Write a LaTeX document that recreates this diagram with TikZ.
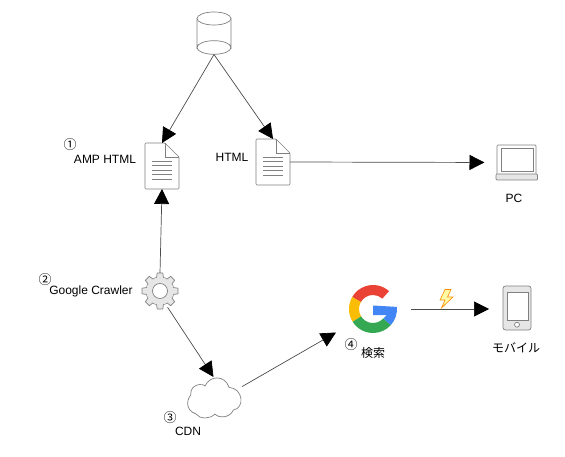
\documentclass[tikz,border=0pt]{standalone}
\usepackage{fontspec}
\usepackage{tikz}
\usetikzlibrary{arrows.meta,positioning,shapes.geometric,calc}
\setmainfont{Liberation Sans}
\newfontfamily\cjkfont{Noto Sans CJK JP}
\definecolor{IconGray}{HTML}{808080}
\definecolor{GearFill}{HTML}{E6E6E6}
\definecolor{GRed}{HTML}{EA4335}
\definecolor{GYellow}{HTML}{FBBC05}
\definecolor{GGreen}{HTML}{34A853}
\definecolor{GBlue}{HTML}{4285F4}
\tikzset{
  lbl/.style={font=\fontsize{12}{14}\selectfont, inner sep=0pt},
  num/.style={font=\fontsize{13}{14}\selectfont\cjkfont, inner sep=0pt},
  box/.style={inner sep=0pt, outer sep=0pt},
  link/.style={black!70, line width=0.7pt, -{Triangle[length=15pt,width=15pt,color=black]}},
  docicon/.pic={
    \draw[IconGray, line width=0.7pt, fill=white, rounded corners=1pt] (-17,-23) -- (3,-23) -- (17,-9) -- (17,23) -- (-17,23) -- cycle;
    \draw[IconGray, line width=0.7pt] (3,-23) -- (3,-9) -- (17,-9);
    \foreach \y in {-5,-0.4,4.2,8.8,13.4}
      \draw[IconGray, line width=0.7pt] (-10,\y) -- (10,\y);
  }
}

\begin{document}
\begin{tikzpicture}[x=1pt, y=-1pt]
\useasboundingbox (0,0) rectangle (565,457);

% Database on top
\node[box, minimum width=34pt, minimum height=42.5pt] (db) at (214,33.25) {};
\draw[IconGray, line width=0.7pt, fill=white] (197,18.5) -- (197,47.5) arc[start angle=180, end angle=0, x radius=17, y radius=-6.8] -- (231,18.5);
\draw[IconGray, line width=0.7pt, fill=white] (214,18.5) ellipse[x radius=17, y radius=6.5];
\draw[IconGray, line width=0.7pt] (197,47.5) arc[start angle=180, end angle=360, x radius=17, y radius=-6.8];

% Documents
\node[box, minimum width=34pt, minimum height=46pt] (amp) at (162,166) {};
\pic at (amp.center) {docicon};
\node[box, minimum width=34pt, minimum height=46pt] (html) at (273,162) {};
\pic at (html.center) {docicon};

% Laptop
\node[box, minimum width=41pt, minimum height=35pt] (pc) at (517,162.5) {};
\draw[IconGray, line width=0.7pt, fill=white, rounded corners=1pt] (497,174) -- (497,145) -- (536,145) -- (536,174);
\draw[IconGray, line width=0.7pt, fill=white] (501,148) rectangle (533,171);
\draw[IconGray, line width=0.7pt, fill=GearFill, rounded corners=1pt] (496,174) rectangle (537.5,180);

% Gear
\node[box, circle, minimum size=36pt] (crawler) at (160,291) {};
\begin{scope}[shift={(crawler.center)}]
  \filldraw[IconGray, line width=0.7pt, fill=GearFill] (0,0) circle (14);
  \foreach \a in {0,45,...,315}
    \filldraw[rotate=\a, IconGray, line width=0.7pt, fill=GearFill] (-3.5,-13) -- (-2.8,-18) -- (2.8,-18) -- (3.5,-13);
  \fill[GearFill] (0,0) circle (13.6);
  \filldraw[IconGray, line width=0.7pt, fill=white] (0,0) circle (7.5);
\end{scope}

% Cloud
\node[box, minimum width=57pt, minimum height=40pt] (cdn) at (213.5,397) {};
\draw[IconGray, line width=0.7pt, fill=white] (196,414)
  .. controls (185,410) and (186.7,400) .. (190.7,395)
  .. controls (190,383.3) and (203.3,383.3) .. (205,386)
  .. controls (210,375) and (225,375) .. (229,387.3)
  .. controls (243.3,388.3) and (245,408.3) .. (233.3,410)
  .. controls (230,418.3) and (218.3,418.3) .. (215,414)
  .. controls (210,419.3) and (200,419.3) .. (196,414) -- cycle;

% Google logo
\node[box, minimum width=75pt, minimum height=47pt] (google) at (373.5,309) {};
\begin{scope}[shift={(373,309)}, y=1pt]
  \fill[GRed] (48:24) arc[start angle=48, end angle=150, radius=24] -- (150:14) arc[start angle=150, end angle=48, radius=14] -- cycle;
  \fill[GYellow] (150:24) arc[start angle=150, end angle=212, radius=24] -- (212:14) arc[start angle=212, end angle=150, radius=14] -- cycle;
  \fill[GGreen] (212:24) arc[start angle=212, end angle=318, radius=24] -- (318:14) arc[start angle=318, end angle=212, radius=14] -- cycle;
  \fill[GBlue] (318:24) arc[start angle=318, end angle=365, radius=24] -- (0,3.5) -- (0,-6) -- (14,-6) -- (318:14) -- cycle;
\end{scope}

% Phone
\node[box, minimum width=28pt, minimum height=44pt] (mobile) at (517,308) {};
\draw[IconGray, line width=0.7pt, fill=GearFill, rounded corners=2.5pt] (503,286) rectangle (531,330);
\draw[IconGray, line width=0.7pt, fill=white] (507,292) rectangle (528,320);
\draw[IconGray, line width=0.7pt, fill=white] (517,324.7) circle (2.5);

% Connectors
\draw[link] (db.south) -- (amp.north);
\draw[link] (db.south) -- (html.north);
\draw[link, shorten >=12pt] (html.east) -- (pc.west);
\draw[link] (crawler.north) -- (amp.south);
\draw[link] (crawler.-65) -- (cdn.north);
\draw[link] (cdn.20) -- (google.south west);
\draw[link, shorten >=14pt] (google.east) -- (mobile.west |- google.east);

% Lightning bolt
\draw[orange!90!yellow, line width=0.6pt, fill=yellow!35] (445,289.5) -- (451,289.5) -- (447.5,297) -- (453,297) -- (441.5,308) -- (445,300) -- (440,300) -- cycle;

% Labels
\node[num] (n1) at (70,145) {①};
\node[lbl] (ampl) at (105,159) {AMP HTML};
\node[lbl] (htmll) at (232,157) {HTML};
\node[lbl] (pcl) at (514,198) {PC};
\node[num] (n2) at (45,280) {②};
\node[lbl] (crawlerl) at (91,291) {Google Crawler};
\node[num] (n3) at (170,418) {③};
\node[lbl] (cdnl) at (188,431) {CDN};
\node[num] (n4) at (351,345) {④};
\node[lbl, font=\fontsize{12}{14}\selectfont\cjkfont] (googlel) at (373,353) {検索};
\node[lbl, font=\fontsize{12}{14}\selectfont\cjkfont] (mobilel) at (516,348) {モバイル};
\end{tikzpicture}
\end{document}
